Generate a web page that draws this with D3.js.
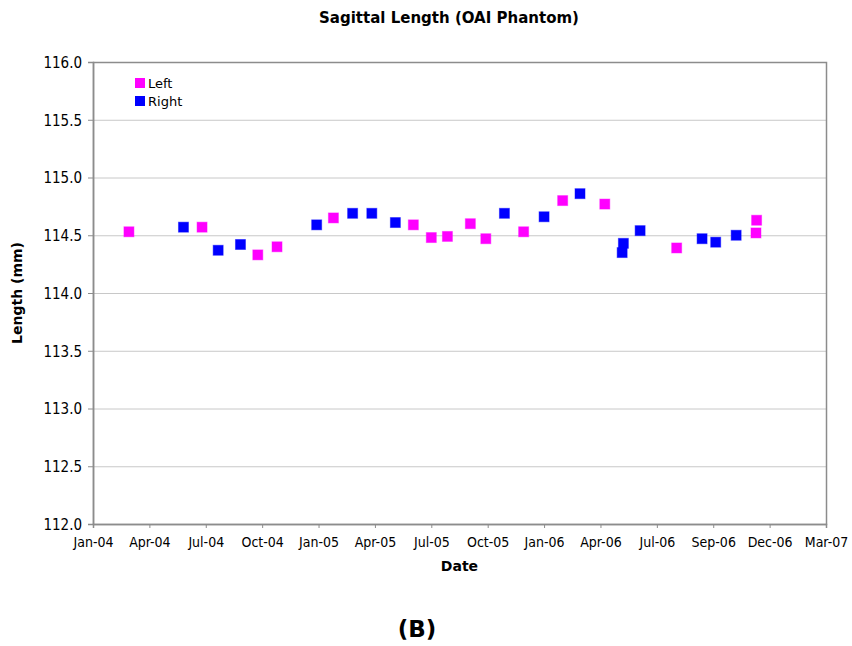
<!DOCTYPE html>
<html>
  <head>
    <title>Sagittal Length (OAI Phantom)</title>
    <script src="https://d3js.org/d3.v7.min.js"></script>
    <style>
      body { margin: 0; background: #fff; }
      text { font-family: "DejaVu Sans", Verdana, sans-serif; }
    </style>
  </head>

  <body>
    <svg width="852" height="646"></svg>

    <script type="text/javascript">
      // Data
      var leftDates = ["2004-02-29", "2004-06-26", "2004-09-24", "2004-10-25",
        "2005-01-24", "2005-06-02", "2005-07-01", "2005-07-27", "2005-09-02",
        "2005-09-27", "2005-11-27", "2006-01-29", "2006-04-07", "2006-08-01",
        "2006-12-08", "2006-12-07"];
      var leftValues = [114.53, 114.57, 114.33, 114.40,
        114.65, 114.59, 114.48, 114.49, 114.60,
        114.47, 114.53, 114.80, 114.77, 114.39,
        114.63, 114.52];

      var rightDates = ["2004-05-27", "2004-07-22", "2004-08-27", "2004-12-28",
        "2005-02-24", "2005-03-27", "2005-05-04", "2005-10-27", "2005-12-30",
        "2006-02-26", "2006-05-07", "2006-05-05", "2006-06-03", "2006-09-11",
        "2006-10-03", "2006-11-05"];
      var rightValues = [114.57, 114.37, 114.42, 114.59,
        114.69, 114.69, 114.61, 114.69, 114.66,
        114.86, 114.43, 114.35, 114.54, 114.47,
        114.44, 114.50];

      var xTickLabels = ["Jan-04", "Apr-04", "Jul-04", "Oct-04", "Jan-05", "Apr-05",
        "Jul-05", "Oct-05", "Jan-06", "Apr-06", "Jul-06", "Sep-06", "Dec-06", "Mar-07"];
      var yTicks = [112.0, 112.5, 113.0, 113.5, 114.0, 114.5, 115.0, 115.5, 116.0];

      var parse = d3.timeParse("%Y-%m-%d");
      var axisStart = parse("2004-01-02");
      // Excel date axis: major unit of 91 days
      var xTickDates = xTickLabels.map(function (d, i) {
        return d3.timeDay.offset(axisStart, 91 * i);
      });

      var svg = d3.select("svg"),
        margin = { top: 62, right: 26, bottom: 122, left: 93 },
        width = +svg.attr("width") - margin.left - margin.right,
        height = +svg.attr("height") - margin.top - margin.bottom,
        g = svg.append("g")
          .attr("transform", "translate(" + margin.left + "," + margin.top + ")");

      var xScale = d3.scaleTime()
        .domain([xTickDates[0], xTickDates[xTickDates.length - 1]])
        .range([0, width]);

      var yScale = d3.scaleLinear()
        .domain([112, 116])
        .range([height, 0]);

      // gridlines
      g.append("g")
        .selectAll("line")
        .data(yTicks.slice(1, -1))
        .enter()
        .append("line")
        .attr("x1", 0)
        .attr("x2", width)
        .attr("y1", function (d) { return yScale(d) + 0.5; })
        .attr("y2", function (d) { return yScale(d) + 0.5; })
        .attr("stroke", "#c8c8c8")
        .attr("stroke-width", 1);

      // plot frame
      g.append("rect")
        .attr("x", 0.5)
        .attr("y", 0.5)
        .attr("width", width)
        .attr("height", height)
        .attr("fill", "none")
        .attr("stroke", "#8c8c8c")
        .attr("stroke-width", 1.5);

      var xAxis = g.append("g")
        .attr("transform", "translate(0," + height + ")")
        .call(d3.axisBottom(xScale)
          .tickValues(xTickDates)
          .tickSize(4)
          .tickPadding(9)
          .tickFormat(function (d, i) { return xTickLabels[i]; }));

      var yAxis = g.append("g")
        .call(d3.axisLeft(yScale)
          .tickValues(yTicks)
          .tickSize(5)
          .tickPadding(6)
          .tickFormat(d3.format(".1f")));

      [xAxis, yAxis].forEach(function (ax) {
        ax.select(".domain").attr("stroke", "#8c8c8c").attr("stroke-width", 1.5);
        ax.selectAll(".tick line").attr("stroke", "#8c8c8c");
        ax.selectAll(".tick text")
          .attr("fill", "#000")
          .style("font-family", "'DejaVu Sans Condensed', 'DejaVu Sans', sans-serif")
          .style("font-stretch", "condensed");
      });
      xAxis.selectAll(".tick text").style("font-size", "14px");
      yAxis.selectAll(".tick text").style("font-size", "15px").attr("dy", "0.36em");

      // points
      var size = 10;
      function drawSeries(dates, values, colour) {
        g.append("g")
          .selectAll("rect")
          .data(dates.map(function (d, i) { return { date: parse(d), value: values[i] }; }))
          .enter()
          .append("rect")
          .attr("x", function (d) { return xScale(d.date) - size / 2; })
          .attr("y", function (d) { return yScale(d.value) - size / 2; })
          .attr("width", size)
          .attr("height", size)
          .attr("fill", colour)
          .attr("stroke", colour)
          .attr("stroke-opacity", 0.45)
          .attr("stroke-width", 1);
      }
      drawSeries(leftDates, leftValues, "#ff00ff");
      drawSeries(rightDates, rightValues, "#0000ff");

      // legend
      var legend = svg.append("g").attr("transform", "translate(135,78)");
      [["Left", "#ff00ff"], ["Right", "#0000ff"]].forEach(function (d, i) {
        legend.append("rect")
          .attr("x", 0)
          .attr("y", i * 18)
          .attr("width", 10)
          .attr("height", 10)
          .attr("fill", d[1]);
        legend.append("text")
          .attr("x", 13)
          .attr("y", i * 18 + 5)
          .attr("dy", "0.36em")
          .style("font-size", "13px")
          .text(d[0]);
      });

      // titles
      svg.append("text")
        .attr("x", 449)
        .attr("y", 23)
        .attr("text-anchor", "middle")
        .style("font-size", "15px")
        .style("font-weight", "bold")
        .text("Sagittal Length (OAI Phantom)");

      svg.append("text")
        .attr("x", margin.left + width / 2)
        .attr("y", 571)
        .attr("text-anchor", "middle")
        .style("font-size", "14px")
        .style("font-weight", "bold")
        .text("Date");

      svg.append("text")
        .attr("transform", "translate(22," + (margin.top + height / 2) + ") rotate(-90)")
        .attr("text-anchor", "middle")
        .style("font-size", "14px")
        .style("font-weight", "bold")
        .text("Length (mm)");

      svg.append("text")
        .attr("x", 417)
        .attr("y", 637)
        .attr("text-anchor", "middle")
        .style("font-size", "23px")
        .style("font-weight", "bold")
        .text("(B)");
    </script>
  </body>
</html>
